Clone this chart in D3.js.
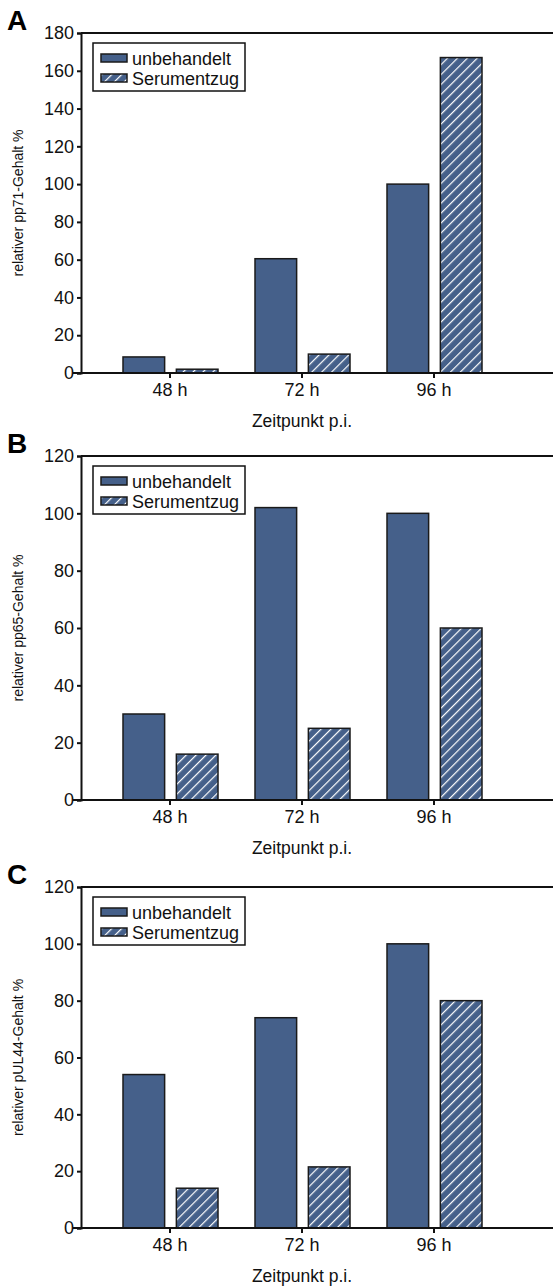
<!DOCTYPE html>
<html>
<head>
<meta charset="utf-8">
<script src="https://cdn.jsdelivr.net/npm/d3@7"></script>
<style>
  body { margin: 0; background: #fff; }
  svg { display: block; font-family: "Liberation Sans", Arial, sans-serif; }
</style>
</head>
<body>
<div id="chart"></div>
<script>
// Kategorien und Reihen
const categories = ["48 h", "72 h", "96 h"];
const seriesNames = ["unbehandelt", "Serumentzug"];

// Panel A – pp71
const pp71Unbehandelt = [8.5, 60.5, 100];
const pp71Serum = [2, 10, 167];
// Panel B – pp65
const pp65Unbehandelt = [30, 102, 100];
const pp65Serum = [16, 25, 60];
// Panel C – pUL44
const pul44Unbehandelt = [54, 74, 100];
const pul44Serum = [14, 21.5, 80];

const yMaxA = 180, yMaxB = 120, yMaxC = 120;

const width = 553, height = 1286;
const barColor = "#45608a";

const svg = d3.select("#chart").append("svg")
    .attr("width", width)
    .attr("height", height);

// Schraffur für Serumentzug
const defs = svg.append("defs");
defs.append("pattern")
    .attr("id", "hatch")
    .attr("patternUnits", "userSpaceOnUse")
    .attr("width", 7)
    .attr("height", 7)
    .attr("patternTransform", "rotate(45)")
    .call(p => {
        p.append("rect").attr("width", 7).attr("height", 7).attr("fill", barColor);
        p.append("line")
            .attr("x1", 0).attr("y1", 0).attr("x2", 0).attr("y2", 7)
            .attr("stroke", "#fff").attr("stroke-width", 2.4);
    });

const panels = [
    { letter: "A", label: "relativer pp71-Gehalt %", top: 33, bottom: 373, max: yMaxA, a: pp71Unbehandelt, b: pp71Serum },
    { letter: "B", label: "relativer pp65-Gehalt %", top: 456, bottom: 800, max: yMaxB, a: pp65Unbehandelt, b: pp65Serum },
    { letter: "C", label: "relativer pUL44-Gehalt %", top: 887, bottom: 1228, max: yMaxC, a: pul44Unbehandelt, b: pul44Serum }
];

const axisLeft = 81;
const x = d3.scaleBand().domain(categories).range([104, 500]);
const xSub = d3.scaleBand().domain(seriesNames).range([-47, 48]).paddingInner(0.22);

panels.forEach(p => {
    const g = svg.append("g");
    const y = d3.scaleLinear().domain([0, p.max]).range([p.bottom, p.top]);

    // Rahmen oben (rechter Rand ausserhalb des Bildes)
    g.append("line")
        .attr("x1", axisLeft).attr("x2", width + 10)
        .attr("y1", p.top).attr("y2", p.top)
        .attr("stroke", "#111").attr("stroke-width", 2);

    // Balken
    const rows = categories.map((c, i) => ({ c, vals: [p.a[i], p.b[i]] }));
    rows.forEach(r => {
        r.vals.forEach((v, j) => {
            g.append("rect")
                .attr("x", x(r.c) + x.bandwidth() / 2 + xSub(seriesNames[j]))
                .attr("y", y(v))
                .attr("width", xSub.bandwidth())
                .attr("height", y(0) - y(v))
                .attr("fill", j === 0 ? barColor : "url(#hatch)")
                .attr("stroke", "#1a1a1a")
                .attr("stroke-width", 1.5);
        });
    });

    // y-Achse
    const yAxis = g.append("g")
        .attr("transform", `translate(${axisLeft},0)`)
        .call(d3.axisLeft(y).ticks(p.max / 20).tickSize(4).tickPadding(3));
    yAxis.select(".domain").attr("stroke", "#111").attr("stroke-width", 2);
    yAxis.selectAll(".tick line").attr("stroke", "#111").attr("stroke-width", 2);
    yAxis.selectAll("text").attr("font-size", 18).attr("fill", "#111");

    // x-Achse
    const xAxis = g.append("g")
        .attr("transform", `translate(0,${p.bottom})`)
        .call(d3.axisBottom(x).tickSize(5).tickPadding(5));
    xAxis.select(".domain").remove();
    g.append("line")
        .attr("x1", axisLeft - 8).attr("x2", width + 10)
        .attr("y1", p.bottom).attr("y2", p.bottom)
        .attr("stroke", "#111").attr("stroke-width", 2);
    xAxis.selectAll(".tick line").attr("stroke", "#111").attr("stroke-width", 2);
    xAxis.selectAll("text").attr("font-size", 18).attr("fill", "#111");

    // Achsentitel
    g.append("text")
        .attr("x", 302).attr("y", p.bottom + 54)
        .attr("text-anchor", "middle")
        .attr("font-size", 17.5).attr("fill", "#111")
        .text("Zeitpunkt p.i.");

    g.append("text")
        .attr("transform", `translate(23,${(p.top + p.bottom) / 2}) rotate(-90)`)
        .attr("text-anchor", "middle")
        .attr("font-size", 14).attr("fill", "#111")
        .text(p.label);

    // Panel-Buchstabe
    g.append("text")
        .attr("x", 7).attr("y", p.top - 3)
        .attr("font-size", 28).attr("font-weight", "bold").attr("fill", "#000")
        .text(p.letter);

    // Legende
    const lg = g.append("g").attr("transform", `translate(93,${p.top + 10})`);
    lg.append("rect")
        .attr("width", 152).attr("height", 48)
        .attr("fill", "#fff").attr("stroke", "#111").attr("stroke-width", 1.5);
    seriesNames.forEach((s, j) => {
        lg.append("rect")
            .attr("x", 8).attr("y", 11 + j * 20)
            .attr("width", 26).attr("height", 8)
            .attr("fill", j === 0 ? barColor : "url(#hatch)")
            .attr("stroke", "#1a1a1a").attr("stroke-width", 1.5);
        lg.append("text")
            .attr("x", 39).attr("y", 21.5 + j * 20)
            .attr("font-size", 18).attr("fill", "#111")
            .text(s);
    });
});
</script>
</body>
</html>
